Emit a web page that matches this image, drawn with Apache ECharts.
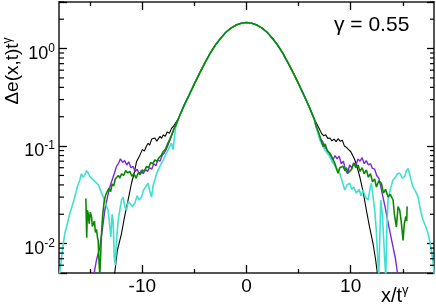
<!DOCTYPE html>
<html>
<head>
<meta charset="utf-8">
<script src="https://cdn.jsdelivr.net/npm/echarts@6/dist/echarts.min.js"></script>
<style>html,body{margin:0;padding:0;background:#fff;}#c{width:436px;height:307px;}</style>
</head>
<body>
<div id="c"></div>
<script>
// ---- data ----
var coreX = [-6.5,-6,-5.5,-5,-4.5,-4,-3.5,-3,-2.5,-2,-1.5,-1,-0.5,0,0.5,1,1.5,2,2.5,3,3.5,4,4.5,5,5.5,6,6.5];
var coreY = [0.195,0.26,0.335,0.435,0.56,0.71,0.89,1.08,1.27,1.46,1.62,1.74,1.82,1.85,1.82,1.74,1.62,1.46,1.27,1.08,0.89,0.71,0.56,0.435,0.335,0.255,0.19];

var blackLeftX = [-12.7,-12.4,-12.0,-11.7,-11.4,-11.04,-10.8,-10.56,-10.3,-10.0,-9.8,-9.6,-9.44,-9.3,-9.1,-8.96,-8.8,-8.6,-8.48,-8.3,-8.15,-8.0,-7.8,-7.6,-7.4,-7.2,-7.0];
var blackLeftY = [0.0045,0.0085,0.0127,0.019,0.027,0.0416,0.052,0.069,0.078,0.092,0.089,0.1,0.107,0.102,0.118,0.114,0.121,0.112,0.118,0.126,0.12,0.13,0.126,0.14,0.135,0.152,0.16];
var blackRightX = [7.0,7.2,7.4,7.6,7.8,8.0,8.2,8.4,8.6,8.8,9.0,9.2,9.4,9.6,9.8,10.0,10.2,10.4,10.6,10.87,11.2,11.51,11.8,12.15,12.4,12.6];
var blackRightY = [0.15,0.135,0.128,0.131,0.12,0.121,0.113,0.118,0.111,0.119,0.112,0.115,0.1,0.097,0.092,0.088,0.08,0.072,0.062,0.0486,0.034,0.022,0.015,0.01,0.0068,0.0046];

var purpleLeftX = [-14.7,-14.4,-14.08,-13.8,-13.6,-13.35,-13.12,-12.9,-12.7,-12.48,-12.3,-12.1,-11.9,-11.7,-11.5,-11.3,-11.1,-10.9,-10.7,-10.5,-10.3,-10.1,-9.9,-9.7,-9.5,-9.3,-9.1,-8.9,-8.7,-8.5,-8.3,-8.1,-7.9,-7.7,-7.5,-7.3,-7.1,-6.9,-6.7];
var purpleLeftY = [0.0045,0.0068,0.0092,0.015,0.022,0.03,0.038,0.045,0.052,0.062,0.066,0.074,0.068,0.071,0.064,0.069,0.06,0.062,0.055,0.058,0.052,0.056,0.052,0.058,0.055,0.06,0.058,0.066,0.063,0.072,0.07,0.08,0.085,0.093,0.105,0.118,0.135,0.155,0.17];
var purpleRightX = [6.7,6.9,7.1,7.3,7.5,7.7,7.9,8.1,8.3,8.5,8.7,8.9,9.1,9.3,9.5,9.7,9.9,10.1,10.3,10.5,10.7,10.9,11.1,11.3,11.5,11.7,11.9,12.1,12.3,12.5,12.7,12.9,13.1,13.3,13.6,13.85,14.07,14.3,14.55];
var purpleRightY = [0.155,0.135,0.118,0.112,0.098,0.092,0.085,0.078,0.072,0.08,0.074,0.079,0.066,0.07,0.057,0.052,0.064,0.06,0.067,0.063,0.074,0.07,0.076,0.066,0.071,0.064,0.066,0.059,0.058,0.05,0.047,0.038,0.03,0.024,0.0162,0.012,0.0092,0.007,0.0045];

var greenLeftX = [-15.42,-15.38,-15.34,-15.28,-15.2,-15.1,-15.0,-14.88,-14.8,-14.72,-14.6,-14.5,-14.4,-14.3,-14.24,-14.16,-14.08,-14.0,-13.92,-13.8,-13.65,-13.5,-13.35,-13.2,-13.05,-12.9,-12.75,-12.6,-12.45,-12.3,-12.15,-12.0,-11.8,-11.6,-11.4,-11.2,-11.0,-10.8,-10.6,-10.4,-10.2,-10.0,-9.8,-9.6,-9.4,-9.2,-9.0,-8.8,-8.6,-8.4,-8.2,-8.0,-7.8,-7.6,-7.4,-7.2,-7.0,-6.8];
var greenLeftY = [0.029,0.018,0.0115,0.022,0.0204,0.016,0.021,0.019,0.015,0.0148,0.017,0.013,0.014,0.0115,0.0108,0.0065,0.0048,0.0075,0.0127,0.02,0.028,0.032,0.031,0.037,0.034,0.041,0.039,0.046,0.044,0.05,0.047,0.052,0.05,0.056,0.053,0.055,0.049,0.052,0.047,0.053,0.051,0.057,0.055,0.062,0.06,0.068,0.066,0.072,0.07,0.076,0.08,0.088,0.092,0.104,0.115,0.13,0.148,0.162];
var greenRightX = [6.7,6.9,7.1,7.35,7.55,7.75,7.99,8.2,8.47,8.65,8.79,8.95,9.1,9.27,9.45,9.6,9.75,9.91,10.1,10.3,10.5,10.71,10.9,11.1,11.3,11.51,11.7,11.9,12.1,12.3,12.47,12.7,12.95,13.15,13.35,13.59,13.8,14.07,14.2,14.39,14.55,14.71,14.85,15.03,15.15,15.3,15.38,15.42];
var greenRightY = [0.16,0.14,0.12,0.099,0.105,0.09,0.085,0.077,0.067,0.058,0.0526,0.06,0.058,0.062,0.056,0.06,0.053,0.055,0.058,0.067,0.06,0.064,0.055,0.06,0.052,0.057,0.048,0.052,0.043,0.046,0.038,0.044,0.0416,0.033,0.036,0.03,0.032,0.028,0.02,0.0148,0.024,0.022,0.017,0.0108,0.016,0.019,0.017,0.024];

var cyanLeftX = [-18.0,-17.8,-17.6,-17.44,-17.2,-16.96,-16.7,-16.48,-16.25,-16.0,-15.85,-15.7,-15.52,-15.35,-15.2,-15.05,-14.88,-14.7,-14.55,-14.4,-14.2,-14.05,-13.92,-13.75,-13.6,-13.45,-13.28,-13.15,-13.02,-12.9,-12.8,-12.7,-12.6,-12.48,-12.3,-12.16,-12.0,-11.84,-11.68,-11.52,-11.35,-11.2,-10.95,-10.72,-10.5,-10.3,-10.08,-9.9,-9.7,-9.44,-9.3,-9.12,-8.95,-8.8,-8.64,-8.48,-8.25,-8.0,-7.75,-7.52,-7.36,-7.2,-7.04,-6.9,-6.75];
var cyanLeftY = [0.0045,0.0065,0.0098,0.0127,0.016,0.0204,0.025,0.03,0.038,0.045,0.052,0.048,0.0506,0.056,0.053,0.049,0.047,0.045,0.047,0.0416,0.04,0.036,0.0355,0.03,0.028,0.024,0.022,0.016,0.0117,0.02,0.017,0.0075,0.006,0.011,0.018,0.022,0.028,0.03,0.024,0.022,0.027,0.028,0.024,0.026,0.031,0.028,0.03,0.035,0.038,0.0416,0.035,0.03,0.04,0.045,0.052,0.057,0.064,0.072,0.082,0.092,0.1,0.107,0.092,0.13,0.165];
var cyanRightX = [6.75,7.03,7.25,7.5,7.75,7.99,8.2,8.45,8.7,8.95,9.15,9.43,9.65,9.91,10.1,10.3,10.55,10.8,11.0,11.19,11.4,11.67,11.85,11.99,12.15,12.31,12.45,12.6,12.7,12.8,12.89,13.0,13.11,13.25,13.37,13.48,13.59,13.8,14.07,14.3,14.5,14.71,14.95,15.19,15.35,15.51,15.65,15.8,15.99,16.2,16.47,16.7,16.95,17.2,17.43,17.6,17.75,17.9,18.05];
var cyanRightY = [0.15,0.116,0.105,0.092,0.085,0.078,0.07,0.064,0.058,0.0526,0.045,0.0355,0.04,0.0416,0.036,0.038,0.033,0.036,0.031,0.0355,0.03,0.028,0.036,0.0416,0.03,0.022,0.014,0.007,0.0045,0.012,0.028,0.022,0.0148,0.0075,0.0045,0.015,0.028,0.036,0.045,0.048,0.052,0.053,0.047,0.049,0.056,0.059,0.052,0.045,0.038,0.035,0.03,0.022,0.0175,0.015,0.0127,0.0105,0.0086,0.0065,0.0045];

var xMajorTicks = [-10, 0, 10];
var xMinorTicks = [-15, -5, 5, 15];
var yMinorTicks = [0.006,0.007,0.008,0.009,0.02,0.03,0.04,0.05,0.06,0.07,0.08,0.09,0.2,0.3,0.4,0.5,0.6,0.7,0.8,0.9,2,3];

// ---- build ----
function pairs(xs, ys) { return xs.map(function (x, i) { return [x, ys[i]]; }); }
function full(lx, ly, rx, ry) {
  return pairs(lx.concat(coreX, rx), ly.concat(coreY, ry));
}
var FONT = 'Liberation Sans, Arial, sans-serif';
var AX = '#555555';

function lineSeries(name, color, width, data) {
  return { name: name, type: 'line', data: data, showSymbol: false, symbol: 'none',
    lineStyle: { color: color, width: width }, animation: false, clip: true, z: 3 };
}

function xAxisDef(pos, ticks, len, showLine, showLabel) {
  return {
    type: 'value', min: -18, max: 18, position: pos, gridIndex: 0,
    axisLine: { show: showLine, onZero: false, lineStyle: { color: AX, width: 2 } },
    axisTick: { show: true, inside: true, length: len, customValues: ticks, lineStyle: { color: '#000', width: 1.3 } },
    axisLabel: { show: showLabel, customValues: ticks, fontSize: 19, color: '#000', fontFamily: FONT, margin: 4 },
    splitLine: { show: false }
  };
}

var chart = echarts.init(document.getElementById('c'), null, { renderer: 'canvas' });
chart.setOption({
  animation: false,
  backgroundColor: '#fff',
  grid: { left: 59, right: 2, top: 2, bottom: 34, containLabel: false },
  xAxis: [
    xAxisDef('bottom', xMajorTicks, 8, true, true),
    xAxisDef('bottom', xMinorTicks, 4, false, false),
    xAxisDef('top', xMajorTicks, 8, true, false),
    xAxisDef('top', xMinorTicks, 4, false, false)
  ],
  yAxis: [
    {
      type: 'log', logBase: 10, min: 0.005, max: 3, position: 'left',
      axisLine: { show: true, onZero: false, lineStyle: { color: AX, width: 2 } },
      axisTick: { show: true, inside: true, length: 8, lineStyle: { color: '#000', width: 1.3 } },
      axisLabel: {
        show: true, margin: 4, padding: [10, 0, 0, 0],
        formatter: function (v) {
          var l = Math.log(v) / Math.LN10, e = Math.round(l);
          if (Math.abs(l - e) > 1e-6) return '';
          return '{b|10}{s|' + e + '}';
        },
        rich: {
          b: { fontSize: 18, fontFamily: FONT, color: '#000', lineHeight: 22 },
          s: { fontSize: 12, fontFamily: FONT, color: '#000', verticalAlign: 'top' }
        }
      },
      splitLine: { show: false }
    },
    {
      type: 'log', logBase: 10, min: 0.005, max: 3, position: 'right',
      axisLine: { show: true, onZero: false, lineStyle: { color: AX, width: 2 } },
      axisTick: { show: true, inside: true, length: 7, lineStyle: { color: '#000', width: 1.3 } },
      axisLabel: { show: false },
      splitLine: { show: false }
    }
  ],
  series: [
    lineSeries('black', '#000000', 1.1, full(blackLeftX, blackLeftY, blackRightX, blackRightY)),
    lineSeries('purple', '#7a2ad8', 1.4, full(purpleLeftX, purpleLeftY, purpleRightX, purpleRightY)),
    lineSeries('cyan', '#40e0d0', 1.6, full(cyanLeftX, cyanLeftY, cyanRightX, cyanRightY)),
    lineSeries('green', '#0a8a00', 1.6, full(greenLeftX, greenLeftY, greenRightX, greenRightY)),
    {
      type: 'custom', silent: true, clip: false, animation: false, z: 5,
      data: yMinorTicks.map(function (v) { return [-18, v]; }),
      renderItem: function (params, api) {
        var a = api.coord([-18, api.value(1)]);
        var b = api.coord([18, api.value(1)]);
        var st = { stroke: '#000', lineWidth: 1.2 };
        return { type: 'group', children: [
          { type: 'line', shape: { x1: a[0], y1: a[1], x2: a[0] + 5, y2: a[1] }, style: st },
          { type: 'line', shape: { x1: b[0] - 4, y1: b[1], x2: b[0], y2: b[1] }, style: st }
        ] };
      }
    }
  ],
  graphic: [
    { type: 'text', x: 13, y: 71, rotation: Math.PI / 2,
      style: { text: '{a|\u0394e(x,t)t}{s|\u03b3}', align: 'center', verticalAlign: 'middle',
        rich: { a: { fontSize: 19, fontFamily: FONT, fill: '#000', lineHeight: 22 },
                s: { fontSize: 12, fontFamily: FONT, fill: '#000', verticalAlign: 'top' } } } },
    { type: 'text', x: 381, y: 296,
      style: { text: '{a|x/t}{s|\u03b3}', align: 'left', verticalAlign: 'middle',
        rich: { a: { fontSize: 20, fontFamily: FONT, fill: '#000', lineHeight: 24 },
                s: { fontSize: 13, fontFamily: FONT, fill: '#000', verticalAlign: 'top' } } } },
    { type: 'text', x: 334, y: 25,
      style: { text: '\u03b3 = 0.55', align: 'left', verticalAlign: 'middle',
        fontSize: 21, fontFamily: FONT, fill: '#000' } }
  ]
});
</script>
</body>
</html>
